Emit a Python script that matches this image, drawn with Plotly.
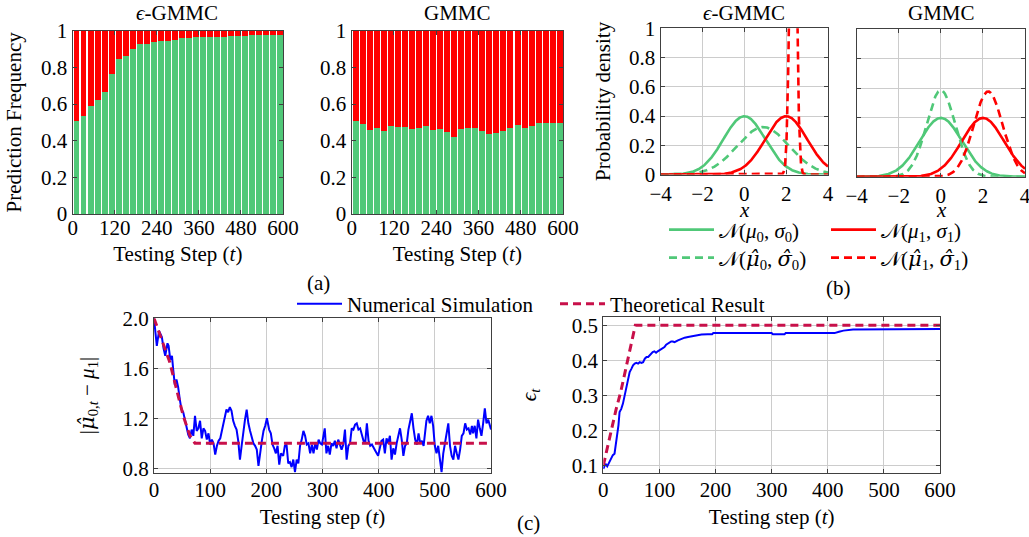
import numpy as np
import plotly.graph_objects as go

SERIF = "Liberation Serif, Times New Roman, DejaVu Serif, serif"
FS = 21
W, H = 1029, 537

# ---------------- data ----------------
# (a) prediction frequency, 30 bins of 20 testing steps
bin_centers = [10, 30, 50, 70, 90, 110, 130, 150, 170, 190, 210, 230, 250, 270, 290,
               310, 330, 350, 370, 390, 410, 430, 450, 470, 490, 510, 530, 550, 570, 590]
eps_green = [0.507, 0.535, 0.589, 0.622, 0.665, 0.764, 0.845, 0.862, 0.900, 0.927,
             0.927, 0.938, 0.944, 0.944, 0.953, 0.960, 0.960, 0.965, 0.965, 0.965,
             0.965, 0.965, 0.971, 0.971, 0.971, 0.976, 0.976, 0.976, 0.976, 0.976]
gmmc_green = [0.507, 0.490, 0.458, 0.469, 0.453, 0.480, 0.475, 0.475, 0.464, 0.469,
              0.480, 0.458, 0.464, 0.447, 0.420, 0.464, 0.469, 0.469, 0.453, 0.436,
              0.442, 0.453, 0.469, 0.485, 0.469, 0.480, 0.496, 0.496, 0.496, 0.496]
a_xticks = [0, 120, 240, 360, 480, 600]

# (b) Gaussian components: true and estimated (mu, sigma)
true_mu = [0.0, 2.0]
true_sigma = [1.0, 1.0]
eps_hat_mu = [0.9, 2.33]
eps_hat_sigma = [1.23, 0.14]
gmmc_hat_mu = [0.0, 2.25]
gmmc_hat_sigma = [0.68, 0.69]

# (c) left: |mu_hat_{0,t} - mu_1|
c1_t = [0, 3, 5, 9, 14, 17, 20, 24, 26, 29, 32, 34, 37, 40, 43, 46, 49, 52, 55, 58,
        61, 64, 67, 70, 73, 76, 79, 82, 85, 88, 91, 94, 97, 100, 103, 106, 109, 112, 115, 118,
        120, 123, 126, 129, 132, 135, 138, 141, 144, 147, 150, 153, 156, 159, 162, 165, 168, 171, 174, 177,
        180, 183, 186, 189, 192, 195, 198, 201, 205, 208, 211, 214, 217, 220, 223, 226, 230, 233, 236, 239,
        242, 245, 248, 251, 254, 257, 260, 263, 266, 269, 272, 275, 278, 281, 284, 287, 290, 293, 296, 299,
        301, 304, 307, 310, 313, 316, 319, 322, 325, 328, 331, 334, 337, 340, 343, 346, 349, 352, 355, 358,
        361, 364, 367, 370, 373, 376, 379, 382, 385, 388, 391, 394, 399, 402, 405, 408, 411, 414, 417, 420,
        423, 426, 429, 432, 435, 438, 441, 444, 447, 450, 453, 456, 459, 462, 465, 468, 471, 474, 477, 480,
        482, 485, 488, 491, 494, 497, 500, 503, 506, 509, 512, 515, 518, 521, 524, 527, 530, 533, 536, 539,
        542, 545, 548, 551, 554, 557, 560, 563, 566, 568, 571, 574, 577, 580, 583, 586, 589, 592, 595, 600]
c1_sim = [2.00, 1.85, 1.78, 1.90, 1.85, 1.76, 1.70, 1.80, 1.78, 1.67, 1.70, 1.60, 1.47, 1.51, 1.45, 1.35, 1.27, 1.25, 1.19, 1.15,
          1.07, 1.04, 1.11, 1.06, 1.22, 1.10, 1.12, 1.18, 1.04, 1.12, 1.10, 1.03, 1.08, 0.99, 1.03, 1.00, 0.91, 0.98, 1.02, 1.04,
          1.08, 1.14, 1.22, 1.27, 1.25, 1.29, 1.26, 1.18, 1.14, 1.11, 1.02, 0.87, 0.98, 1.11, 1.19, 1.27, 1.16, 1.10, 1.04, 1.00,
          0.98, 0.95, 0.82, 0.93, 1.02, 1.10, 1.14, 1.20, 1.11, 1.08, 0.99, 0.96, 0.92, 0.98, 0.83, 0.92, 0.90, 0.98, 0.99, 0.84,
          0.85, 0.81, 0.87, 0.77, 0.87, 0.84, 0.98, 1.03, 1.10, 1.06, 0.99, 1.00, 0.92, 0.99, 0.92, 1.00, 0.95, 1.03, 1.00, 0.99,
          1.06, 1.12, 0.92, 0.98, 0.91, 1.00, 0.98, 1.02, 0.96, 1.03, 0.99, 0.95, 0.99, 1.11, 0.87, 0.98, 1.00, 1.12, 1.11, 1.15,
          1.16, 1.11, 1.12, 1.06, 1.02, 1.00, 1.16, 1.02, 0.98, 0.99, 0.96, 0.94, 0.90, 0.95, 1.02, 1.03, 0.92, 1.04, 1.00, 1.06,
          0.87, 0.96, 0.91, 1.00, 1.07, 1.12, 1.03, 0.90, 0.98, 1.00, 1.11, 1.19, 1.24, 1.12, 1.03, 0.99, 1.08, 1.00, 1.02, 0.98,
          1.06, 1.18, 1.22, 1.16, 1.22, 1.14, 0.98, 0.92, 0.98, 0.87, 0.77, 0.92, 1.00, 1.08, 1.16, 0.98, 0.90, 0.87, 0.98, 0.92,
          0.87, 0.95, 1.06, 1.08, 1.16, 1.11, 1.12, 1.07, 1.14, 1.08, 1.14, 1.04, 1.19, 1.12, 1.06, 1.16, 1.28, 1.16, 1.19, 1.11]
c1_theory_t = [0, 28, 52, 64, 73, 600]
c1_theory = [2.0, 1.65, 1.22, 1.06, 1.0, 1.0]

# (c) right: epsilon_t
c2_t = [0, 4, 7, 11, 14, 17, 20, 23, 25, 27, 29, 32, 35, 38, 41, 44, 47, 50, 53, 56,
        59, 62, 65, 68, 71, 74, 77, 80, 83, 86, 88, 91, 94, 97, 100, 103, 106, 109, 112, 115,
        118, 121, 124, 127, 133, 139, 145, 151, 157, 163, 169, 175, 186, 194, 196, 300, 302, 323, 325, 412,
        420, 428, 445, 600]
c2_sim = [0.091, 0.105, 0.098, 0.112, 0.124, 0.130, 0.134, 0.167, 0.196, 0.215, 0.253, 0.262, 0.277, 0.300, 0.324, 0.348, 0.367, 0.376, 0.386, 0.391,
          0.393, 0.391, 0.395, 0.393, 0.395, 0.405, 0.410, 0.410, 0.416, 0.419, 0.424, 0.426, 0.422, 0.426, 0.429, 0.431, 0.433, 0.438, 0.445, 0.448,
          0.452, 0.454, 0.454, 0.452, 0.457, 0.462, 0.465, 0.467, 0.469, 0.471, 0.473, 0.474, 0.475, 0.475, 0.478, 0.478, 0.475, 0.475, 0.478, 0.478,
          0.482, 0.485, 0.488, 0.490]
c2_theory_t = [0, 8, 15, 23, 31, 38, 45, 53, 57, 600]
c2_theory = [0.10, 0.157, 0.205, 0.262, 0.31, 0.362, 0.414, 0.476, 0.50, 0.50]

GREEN = "#50C878"
RED = "#FF0000"
BLUE = "#0000FF"
CRIMSON = "#C8104A"
FRAME = "#404040"
GRID = "#CCCCCC"

HAT = "<span style='font-family:DejaVu Serif'><i>{}\u0302</i></span>"
MUH = HAT.format("μ")
SIGH = HAT.format("σ")


def fx(px):
    return px / W


def fy(py):
    return 1 - py / H


fig = go.Figure()

# ---------- (a) bars ----------
for i, green in enumerate([eps_green, gmmc_green]):
    ax = "" if i == 0 else "2"
    fig.add_trace(go.Bar(x=bin_centers, y=green, width=17, marker=dict(color=GREEN, line=dict(width=0)),
                         xaxis="x" + ax, yaxis="y" + ax, showlegend=False))
    fig.add_trace(go.Bar(x=bin_centers, y=[1 - g for g in green], width=17,
                         marker=dict(color=RED, line=dict(width=0)),
                         xaxis="x" + ax, yaxis="y" + ax, showlegend=False))

# ---------- (b) densities ----------
b_x = np.linspace(-4, 4, 2001)


def pdf(mu, s):
    return np.exp(-0.5 * ((b_x - mu) / s) ** 2) / (s * np.sqrt(2 * np.pi))


names_true = ["𝒩(<i>μ</i><sub>0</sub>, <i>σ</i><sub>0</sub>)", "𝒩(<i>μ</i><sub>1</sub>, <i>σ</i><sub>1</sub>)"]
names_hat = ["𝒩(" + MUH + "<sub>0</sub>, " + SIGH + "<sub>0</sub>)",
             "𝒩(" + MUH + "<sub>1</sub>, " + SIGH + "<sub>1</sub>)"]
cols = [GREEN, RED]
for p, (hm, hs) in enumerate([(eps_hat_mu, eps_hat_sigma), (gmmc_hat_mu, gmmc_hat_sigma)]):
    ax = "3" if p == 0 else "4"
    for k in range(2):
        fig.add_trace(go.Scatter(x=b_x, y=pdf(true_mu[k], true_sigma[k]), mode="lines",
                                 line=dict(color=cols[k], width=2.6), name=names_true[k],
                                 legend="legend" if k == 0 else "legend2",
                                 showlegend=(p == 0), xaxis="x" + ax, yaxis="y" + ax))
    for k in range(2):
        fig.add_trace(go.Scatter(x=b_x, y=pdf(hm[k], hs[k]), mode="lines",
                                 line=dict(color=cols[k], width=2.6, dash="8px,5px"), name=names_hat[k],
                                 legend="legend3" if k == 0 else "legend4",
                                 showlegend=(p == 0), xaxis="x" + ax, yaxis="y" + ax))

# ---------- (c) ----------
fig.add_trace(go.Scatter(x=c1_t, y=c1_sim, mode="lines", line=dict(color=BLUE, width=2),
                         name="Numerical Simulation", legend="legend5", xaxis="x5", yaxis="y5"))
fig.add_trace(go.Scatter(x=c1_theory_t, y=c1_theory, mode="lines",
                         line=dict(color=CRIMSON, width=3, dash="8px,5px"),
                         name="Theoretical Result", legend="legend6", xaxis="x5", yaxis="y5"))
fig.add_trace(go.Scatter(x=c2_t, y=c2_sim, mode="lines", line=dict(color=BLUE, width=2),
                         showlegend=False, xaxis="x6", yaxis="y6"))
fig.add_trace(go.Scatter(x=c2_theory_t, y=c2_theory, mode="lines",
                         line=dict(color=CRIMSON, width=3, dash="8px,5px"),
                         showlegend=False, xaxis="x6", yaxis="y6"))

tfont = dict(family=SERIF, size=FS, color="black")
base = dict(showline=True, linecolor=FRAME, linewidth=1.3, mirror="ticks", ticks="inside", ticklen=4,
            tickcolor=FRAME, tickwidth=1.3, tickfont=tfont, automargin=False, zeroline=False,
            showgrid=False)


def xa(px0, px1, anchor, **kw):
    d = dict(base)
    d.update(domain=[fx(px0), fx(px1)], anchor=anchor)
    d.update(kw)
    return d


def ya(py_top, py_bot, anchor, **kw):
    d = dict(base)
    d.update(domain=[fy(py_bot), fy(py_top)], anchor=anchor)
    d.update(kw)
    return d


a_top, a_bot = 30.7, 214
layout = dict(
    width=W, height=H, margin=dict(l=0, r=0, t=0, b=0, autoexpand=False),
    paper_bgcolor="white", plot_bgcolor="white", barmode="stack", bargap=0,
    font=tfont,
    xaxis=xa(72.7, 283, "y", range=[0, 600], tickvals=a_xticks, ticklabelstandoff=-5,
             title=dict(text="Testing Step (<i>t</i>)", font=tfont, standoff=6)),
    yaxis=ya(a_top, a_bot, "x", range=[0, 1], dtick=0.2,
             title=dict(text="Prediction Frequency", font=tfont, standoff=13)),
    xaxis2=xa(351.7, 563, "y2", range=[0, 600], tickvals=a_xticks, ticklabelstandoff=-5,
              title=dict(text="Testing Step (<i>t</i>)", font=tfont, standoff=6)),
    yaxis2=ya(a_top, a_bot, "x2", range=[0, 1], dtick=0.2),
    xaxis3=xa(660.7, 828, "y3", range=[-4, 4], dtick=2, showgrid=True, gridcolor=GRID),
    yaxis3=ya(28.3, 174.5, "x3", range=[0, 1], dtick=0.2, showgrid=True, gridcolor=GRID,
              title=dict(text="Probability density", font=tfont, standoff=12)),
    xaxis4=xa(856.7, 1025, "y4", range=[-4, 4], dtick=2, showgrid=True, gridcolor=GRID,
              ticklabeloverflow="allow"),
    yaxis4=ya(29.3, 176.7, "x4", range=[0, 1], dtick=0.2, showgrid=True, gridcolor=GRID,
              showticklabels=False),
    xaxis5=xa(154, 491, "y5", range=[0, 600], dtick=100, showgrid=True, gridcolor=GRID,
              ticklabelstandoff=-2,
              title=dict(text="Testing step (<i>t</i>)", font=tfont, standoff=8)),
    yaxis5=ya(318.3, 472.7, "x5", range=[0.765, 2.0], tickvals=[0.8, 1.2, 1.6, 2.0], tickformat=".1f",
              showgrid=True, gridcolor=GRID,
              title=dict(text="|" + MUH + "<sub>0,<i>t</i></sub> − <i>μ</i><sub>1</sub>|", font=tfont,
                         standoff=22)),
    xaxis6=xa(603.3, 940, "y6", range=[0, 600], dtick=100, showgrid=True, gridcolor=GRID,
              ticklabelstandoff=-2,
              title=dict(text="Testing step (<i>t</i>)", font=tfont, standoff=8)),
    yaxis6=ya(317.3, 472.7, "x6", range=[0.08, 0.523], tickvals=[0.1, 0.2, 0.3, 0.4, 0.5], tickformat=".1f",
              showgrid=True, gridcolor=GRID,
              title=dict(text="<i>ϵ</i><sub><i>t</i></sub>", font=tfont, standoff=29)),
)

leg_common = dict(font=tfont, bgcolor="rgba(0,0,0,0)", borderwidth=0, xanchor="left", yanchor="middle",
                  itemwidth=45)
leg_pos = {"legend": (664, 230), "legend2": (826, 230), "legend3": (664, 258), "legend4": (826, 258),
           "legend5": (292, 304), "legend6": (555, 304)}
for k, (px, py) in leg_pos.items():
    d = dict(leg_common)
    d.update(x=fx(px), y=fy(py))
    layout[k] = d

annots = []
for text, px, py in [("<i>ϵ</i>-GMMC", 177, 13), ("GMMC", 457, 13), ("<i>ϵ</i>-GMMC", 744, 13),
                     ("GMMC", 941, 13), ("<i>x</i>", 744, 210), ("<i>x</i>", 941, 210),
                     ("(a)", 318, 283), ("(b)", 838, 288), ("(c)", 528, 523)]:
    annots.append(dict(text=text, x=fx(px), y=fy(py), xref="paper", yref="paper", showarrow=False,
                       xanchor="center", yanchor="middle", font=tfont))
layout["annotations"] = annots

fig.update_layout(**layout)
fig.write_html("out.html", config={"displayModeBar": False},
               post_script="document.body.style.margin='0px';")
